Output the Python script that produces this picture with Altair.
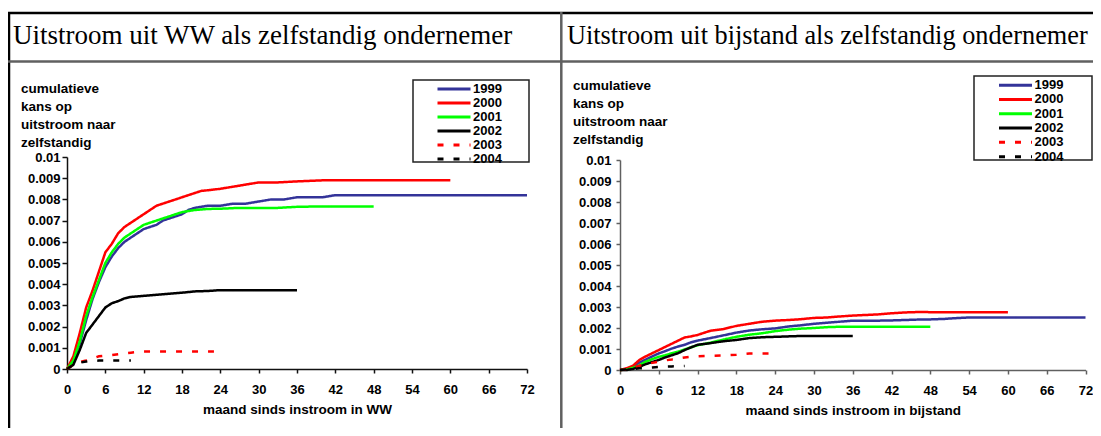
import altair as alt
import pandas as pd

# ---------------- data ----------------
YEARS = ["1999", "2000", "2001", "2002", "2003", "2004"]
COLORS = ["#333399", "#FF0000", "#00FF00", "#000000", "#FF0000", "#000000"]
DASHES = [[1, 0], [1, 0], [1, 0], [1, 0], [6, 10], [6, 10]]
X_TICKS = [0, 6, 12, 18, 24, 30, 36, 42, 48, 54, 60, 66, 72]
Y_TICKS = [0, 0.001, 0.002, 0.003, 0.004, 0.005, 0.006, 0.007, 0.008, 0.009, 0.01]

TITLE_WW = "Uitstroom uit WW als zelfstandig ondernemer"
TITLE_BIJ = "Uitstroom uit bijstand als zelfstandig ondernemer"
Y_TITLE = ["cumulatieve", "kans op", "uitstroom naar", "zelfstandig"]
X_TITLE_WW = "maand sinds instroom in WW"
X_TITLE_BIJ = "maand sinds instroom in bijstand"

# WW panel
ww_1999_m = [0, 1, 2, 3, 4, 5, 6, 7, 8, 9, 10, 11, 12, 13, 14, 15, 16, 17, 18, 19, 20,
             22, 24, 26, 28, 30, 32, 34, 36, 40, 42, 48, 54, 60, 66, 72]
ww_1999_v = [0, 0.0004, 0.0012, 0.0023, 0.0033, 0.0041, 0.0048, 0.0053, 0.0057, 0.0060, 0.0062,
             0.0064, 0.0066, 0.0067, 0.0068, 0.0070, 0.0071, 0.0072, 0.0073, 0.0075, 0.0076,
             0.0077, 0.0077, 0.0078, 0.0078, 0.0079, 0.0080, 0.0080, 0.0081, 0.0081, 0.0082,
             0.0082, 0.0082, 0.0082, 0.0082, 0.0082]
ww_2000_m = [0, 1, 2, 3, 4, 5, 6, 7, 8, 9, 10, 11, 12, 13, 14, 15, 16, 17, 18,
             20, 21, 22, 24, 26, 28, 30, 33, 36, 40, 45, 50, 55, 60]
ww_2000_v = [0, 0.0006, 0.0017, 0.0029, 0.0037, 0.0046, 0.0055, 0.0059, 0.0064, 0.0067, 0.0069,
             0.0071, 0.0073, 0.0075, 0.0077, 0.0078, 0.0079, 0.0080, 0.0081,
             0.0083, 0.0084, 0.00843, 0.0085, 0.0086, 0.0087, 0.0088, 0.0088, 0.00885, 0.0089,
             0.0089, 0.0089, 0.0089, 0.0089]
ww_2001_m = [0, 1, 2, 3, 4, 5, 6, 7, 8, 9, 10, 11, 12, 13, 14, 15, 16, 17, 18, 19, 20,
             22, 24, 27, 30, 33, 36, 40, 48]
ww_2001_v = [0, 0.0004, 0.0013, 0.0025, 0.0034, 0.0042, 0.0050, 0.0055, 0.0059, 0.0062, 0.0064,
             0.0066, 0.0068, 0.0069, 0.0070, 0.0071, 0.0072, 0.0073, 0.0074, 0.00745, 0.0075,
             0.00755, 0.00756, 0.0076, 0.0076, 0.0076, 0.00765, 0.00767, 0.00767]
ww_2002_m = [0, 1, 2, 3, 4, 5, 6, 7, 8, 9, 10, 12, 14, 16, 18, 20, 22, 24, 30, 36]
ww_2002_v = [0, 0.0002, 0.0009, 0.0017, 0.0021, 0.0025, 0.0029, 0.0031, 0.0032, 0.00333, 0.0034,
             0.00345, 0.0035, 0.00355, 0.0036, 0.00366, 0.00368, 0.00372, 0.00372, 0.00372]
ww_2003_m = [0, 1, 2, 3, 4, 5, 6, 7, 8, 9, 10, 11, 12, 14, 16, 18, 20, 23]
ww_2003_v = [0, 0.0002, 0.00033, 0.0004, 0.0005, 0.0006, 0.00063, 0.00066, 0.0007, 0.00074,
             0.00077, 0.0008, 0.00082, 0.00082, 0.00082, 0.00083, 0.00083, 0.00083]
ww_2004_m = [0, 1, 2, 3, 4, 5, 6, 7, 8, 9, 10]
ww_2004_v = [0, 0.0002, 0.0003, 0.00035, 0.00038, 0.0004, 0.0004, 0.0004, 0.0004, 0.0004, 0.0004]

# Bijstand panel
bij_1999_m = [0, 1, 2, 3, 4, 5, 6, 7, 8, 9, 10, 11, 12, 14, 16, 18, 20, 22, 24, 26, 28, 30, 32,
              34, 36, 38, 40, 42, 44, 46, 48, 50, 52, 54, 60, 66, 72]
bij_1999_v = [0, 0.00005, 0.00015, 0.00035, 0.0005, 0.00065, 0.00079, 0.0009, 0.00102, 0.00112,
              0.0012, 0.00132, 0.0014, 0.00152, 0.00165, 0.00178, 0.00188, 0.00194, 0.00198,
              0.00207, 0.00213, 0.0022, 0.00225, 0.0023, 0.00235, 0.00235, 0.00235, 0.00236,
              0.00238, 0.0024, 0.00241, 0.00243, 0.00247, 0.0025, 0.0025, 0.0025, 0.0025]
bij_2000_m = [0, 1, 2, 3, 4, 5, 6, 7, 8, 9, 10, 11, 12, 14, 16, 18, 20, 22, 24, 26, 28, 30, 32,
              34, 36, 38, 40, 42, 44, 46, 50, 55, 60]
bij_2000_v = [0, 0.00008, 0.0002, 0.00048, 0.00065, 0.0008, 0.00095, 0.0011, 0.00125, 0.0014,
              0.00155, 0.0016, 0.00167, 0.00187, 0.00195, 0.0021, 0.0022, 0.0023, 0.00235,
              0.00238, 0.00242, 0.00248, 0.0025, 0.00255, 0.00259, 0.00262, 0.00265, 0.0027,
              0.00274, 0.00276, 0.00275, 0.00275, 0.00275]
bij_2001_m = [0, 1, 2, 3, 4, 5, 6, 7, 8, 9, 10, 11, 12, 14, 16, 18, 20, 22, 24, 26, 28, 30, 32,
              34, 36, 40, 44, 48]
bij_2001_v = [0, 0.00002, 0.0001, 0.00022, 0.0004, 0.00052, 0.00063, 0.0007, 0.0008, 0.00087,
              0.00098, 0.00108, 0.00118, 0.0013, 0.00145, 0.00158, 0.00168, 0.00175, 0.00185,
              0.00192, 0.00197, 0.002, 0.00204, 0.00206, 0.00206, 0.00206, 0.00206, 0.00206]
bij_2002_m = [0, 1, 2, 3, 4, 5, 6, 7, 8, 9, 10, 11, 12, 14, 16, 18, 20, 22, 24, 26, 28, 30, 36]
bij_2002_v = [0, 0, 0.00005, 0.00015, 0.00028, 0.00038, 0.00048, 0.0006, 0.0007, 0.0008, 0.00095,
              0.00108, 0.0012, 0.00128, 0.00137, 0.00143, 0.00152, 0.00156, 0.00158, 0.0016,
              0.00162, 0.00162, 0.00162]
bij_2003_m = [0, 1, 2, 3, 4, 5, 6, 7, 8, 9, 10, 11, 12, 14, 16, 18, 20, 23]
bij_2003_v = [0, 0.00003, 0.0001, 0.0002, 0.00028, 0.00034, 0.0004, 0.00046, 0.0005, 0.00055,
              0.0006, 0.00063, 0.00065, 0.00067, 0.00069, 0.00073, 0.00079, 0.00079]
bij_2004_m = [0, 1, 2, 3, 4, 5, 6, 7, 8, 9, 10]
bij_2004_v = [0, 0.00002, 0.00005, 0.00008, 0.0001, 0.00012, 0.00014, 0.00016, 0.00017, 0.00018,
              0.00019]


def long_df(series):
    rows = []
    for year, ms, vs in series:
        for m, v in zip(ms, vs):
            rows.append({"jaar": year, "maand": m, "kans": v})
    return pd.DataFrame(rows)


df_ww = long_df([("1999", ww_1999_m, ww_1999_v), ("2000", ww_2000_m, ww_2000_v),
                 ("2001", ww_2001_m, ww_2001_v), ("2002", ww_2002_m, ww_2002_v),
                 ("2003", ww_2003_m, ww_2003_v), ("2004", ww_2004_m, ww_2004_v)])
df_bij = long_df([("1999", bij_1999_m, bij_1999_v), ("2000", bij_2000_m, bij_2000_v),
                  ("2001", bij_2001_m, bij_2001_v), ("2002", bij_2002_m, bij_2002_v),
                  ("2003", bij_2003_m, bij_2003_v), ("2004", bij_2004_m, bij_2004_v)])

SANS = "Liberation Sans"
SERIF = "Liberation Serif"
dummy = pd.DataFrame({"d": [0]})


def rule(x, x2, y, y2, color, width):
    return alt.Chart(dummy).mark_rule(color=color, strokeWidth=width).encode(
        x=alt.value(x), x2=alt.value(x2), y=alt.value(y), y2=alt.value(y2))


def text(x, y, txt, font, size, weight="normal", line_height=None):
    kw = dict(text=txt, font=font, fontSize=size, fontWeight=weight, align="left",
              baseline="alphabetic", color="black")
    if line_height is not None:
        kw["lineHeight"] = line_height
    return alt.Chart(dummy).mark_text(**kw).encode(x=alt.value(x), y=alt.value(y))


def box(x, x2, y, y2):
    return alt.Chart(dummy).mark_rect(fill="white", stroke="#222222", strokeWidth=1.5).encode(
        x=alt.value(x), x2=alt.value(x2), y=alt.value(y), y2=alt.value(y2))


def legend(lx, ly, ch, rp):
    return alt.Legend(orient="none", legendX=lx, legendY=ly, title=None, symbolType="stroke",
                      symbolSize=1089, symbolStrokeWidth=3, labelFont=SANS, labelFontSize=13,
                      labelFontWeight="bold", labelColor="black", clipHeight=ch, rowPadding=rp,
                      padding=0, labelOffset=1, symbolOffset=0)


def panel(df, xrange, yrange, xaxis, yaxis, leg):
    return alt.Chart(df).mark_line(strokeWidth=2.5, strokeCap="butt").encode(
        x=alt.X("maand:Q", scale=alt.Scale(domain=[0, 72], range=xrange, nice=False), axis=xaxis),
        y=alt.Y("kans:Q", scale=alt.Scale(domain=[0, 0.01], range=yrange, nice=False), axis=yaxis),
        color=alt.Color("jaar:N", scale=alt.Scale(domain=YEARS, range=COLORS), legend=leg),
        strokeDash=alt.StrokeDash("jaar:N", scale=alt.Scale(domain=YEARS, range=DASHES), legend=leg),
    )


def xaxis(title, color, offset):
    return alt.Axis(orient="bottom", offset=offset, values=X_TICKS, title=title, grid=False,
                    domainColor=color, domainWidth=1.5, tickColor=color, tickWidth=1.5, tickSize=4,
                    labelFont=SANS, labelFontSize=13, labelFontWeight="bold", labelColor="black",
                    labelPadding=10, labelFlush=False, labelOverlap=False,
                    titleFont=SANS, titleFontSize=13.5, titleFontWeight="bold", titleColor="black",
                    titlePadding=6)


def yaxis(color, offset, tick, pad):
    return alt.Axis(orient="left", offset=offset, values=Y_TICKS, format=".3~f", title=None,
                    grid=False, domainColor=color, domainWidth=1.5, tickColor=color, tickWidth=1.5,
                    tickSize=tick, labelFont=SANS, labelFontSize=13, labelFontWeight="bold",
                    labelColor="black", labelPadding=pad, labelFlush=False, labelOverlap=False)


left = panel(df_ww, [0, 460], [212, 0], xaxis(X_TITLE_WW, "#111111", 0),
             yaxis("#111111", 0, 5, 2), legend(369, -74.5, 13, 0))
right = panel(df_bij, [553, 1018.5], [213, 3], xaxis(X_TITLE_BIJ, "#606060", 1),
              yaxis("#606060", -553, 4, 5), legend(930.5, -78.5, 13.3, 0.3))

decor = [
    rule(-59, 1040, -144, -144, "#000000", 2.5),
    rule(-58, -58, -145, 280, "#000000", 2.5),
    rule(-59, 1040, -95.5, -95.5, "#606060", 2.5),
    rule(494.3, 494.3, -145, 280, "#606060", 2.5),
    text(-54, -113, TITLE_WW, SERIF, 27),
    text(500, -113, TITLE_BIJ, SERIF, 26.3),
    text(-46, -64.5, Y_TITLE, SANS, 13.5, "bold", 18.3),
    text(506, -67.5, Y_TITLE, SANS, 13.5, "bold", 18.3),
    box(346, 462, -77, 5),
    box(907, 1025, -81, 3),
]

chart = alt.layer(*decor, left, right).resolve_scale(
    x="independent", y="independent", color="independent", strokeDash="independent"
).properties(
    width=460, height=212,
    padding={"left": 59, "top": 149, "right": 566, "bottom": 59},
    autosize=alt.AutoSizeParams(type="none"),
    background="white",
).configure_view(strokeWidth=0)

chart.save("out.html", embed_options={"renderer": "svg", "actions": False})
